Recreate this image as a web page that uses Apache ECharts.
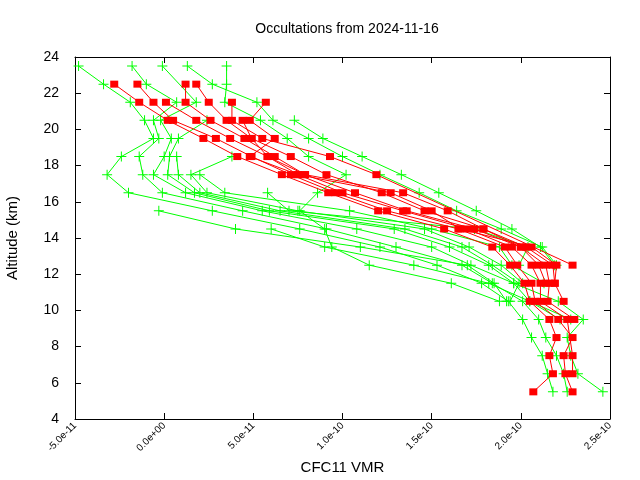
<!DOCTYPE html>
<html><head><meta charset="utf-8">
<script src="https://cdn.jsdelivr.net/npm/echarts@6/dist/echarts.min.js"></script>
<style>html,body{margin:0;padding:0;background:#fff}#c{width:640px;height:480px}</style>
</head><body><div id="c"></div>
<script>
// Altitude levels (km), top to bottom
const altitudes = [23.5,22.5,21.5,20.5,19.5,18.5,17.5,16.5,15.5,14.5,13.5,12.5,11.5,10.5,9.5,8.5,7.5,6.5,5.5];
// x tick labels
const xTicks = [-50,0,50,100,150,200,250]; // pptv (1e-12)

// Green profiles: CFC11 VMR in pptv at each altitude level (null = no data)
const green1 = [-48,-34,-19,-11,-6,-24,-32,-20,27,76,121,153,178,193,201,206,212,215,218];
const green2 = [-18,-10,7,-6,-3,-14,-12,-1,44,91,130,167,184,201,210,214,220,224,226];
const green3 = [-1,null,18,-2,4,0,-6,12,55,108,150,172,196,221,235,226,228,232,246];
const green4 = [null,null,null,24,8,3,2,17,59,129,160,182,196,205,228,null,null,null,null];
const green5 = [null,null,null,null,null,7,8,20,65,135,167,184,199,194,null,null,null,null,null];
const green6 = [null,null,null,null,null,38,15,24,75,146,171,189,201,null,null,null,null,null,null];
const green7 = [null,null,null,null,null,null,20,34,104,150,188,195,213,null,null,null,null,null,null];
const green8 = [null,null,null,null,null,null,null,58,70,174,204,199,null,null,null,null,null,null,null];
const green9 = [35,35,34,54,69,81,102,86,76,90,94,115,161,188,null,null,null,null,null];
const green10 = [13,27,52,61,81,100,121,143,164,189,212,220,null,null,null,null,null,null,null];
const green11 = [null,null,null,73,89,111,133,154,175,195,211,219,null,null,null,null,null,null,null];
const green12 = [null,null,null,null,null,null,null,null,-3,40,110,170,185,192,null,null,null,null,null];
const green13 = [null,null,null,null,null,null,null,null,null,60,90,140,182,205,222,null,null,null,null];

// Red profiles
const red1 = [null,-28,-14,2,22,41,66,92,120,157,184,194,202,205,216,220,216,218,207];
const red2 = [null,-15,-6,5,29,49,71,96,125,165,191,198,206,208,221,229,224,225,229];
const red3 = [null,null,1,18,37,58,75,100,134,170,195,206,211,211,226,null,229,229,null];
const red4 = [null,12,12,26,45,62,79,107,136,174,200,214,216,215,230,null,null,null,null];
const red5 = [null,18,25,35,49,71,91,122,146,179,203,218,219,224,null,null,null,null,null];
const red6 = [null,null,38,38,55,93,119,null,null,null,null,229,null,null,null,null,null,null,null];
const red7 = [null,null,57,48,62,48,75,127,150,166,206,220,219,null,null,null,null,null,null];
const red8 = [null,null,null,44,49,58,79,134,159,179,200,210,214,null,null,null,null,null,null];

const greens = [green1,green2,green3,green4,green5,green6,green7,green8,green9,green10,green11,green12,green13];
const reds = [red1,red2,red3,red4,red5,red6,red7,red8];

function toPairs(arr){
  const out=[];
  arr.forEach((v,i)=>{ if(v!==null) out.push([v, altitudes[i]]); });
  return out;
}
function fmt(v){
  if (v===0) return '0.0e+00';
  const x = v*1e-12;
  const e = Math.floor(Math.log10(Math.abs(x)) + 1e-9);
  const m = x/Math.pow(10,e);
  const es = (e<0?'-':'+') + String(Math.abs(e)).padStart(2,'0');
  return m.toFixed(1)+'e'+es;
}
const plus = 'path://M4.5,0 H5.5 V4.5 H10 V5.5 H5.5 V10 H4.5 V5.5 H0 V4.5 H4.5 Z';
const series = [];
greens.forEach(g=>series.push({type:'line',data:toPairs(g),xAxisIndex:0,yAxisIndex:0,
  symbol:plus,symbolSize:10,showAllSymbol:true,
  lineStyle:{color:'#00ff00',width:1},itemStyle:{color:'#00ff00',borderWidth:0},
  emphasis:{disabled:true},animation:false,z:2}));
reds.forEach(r=>series.push({type:'line',data:toPairs(r),xAxisIndex:0,yAxisIndex:0,
  symbol:'rect',symbolSize:[8,7],showAllSymbol:true,
  lineStyle:{color:'#ff0000',width:1},itemStyle:{color:'#ff0000',borderWidth:0},
  emphasis:{disabled:true},animation:false,z:3}));

const font = 'Liberation Sans, Arial, sans-serif';
const axLine = {show:true,onZero:false,lineStyle:{color:'#000',width:1}};
const chart = echarts.init(document.getElementById('c'),null,{renderer:'canvas'});
chart.setOption({
  animation:false,
  backgroundColor:'#fff',
  title:{text:'Occultations from 2024-11-16',left:342,top:17,textAlign:'center',
    textStyle:{fontFamily:font,fontSize:14,fontWeight:'normal',color:'#000'}},
  grid:{left:75,right:30,top:57,bottom:61,show:false,containLabel:false,outerBoundsMode:'none'},
  xAxis:[{type:'value',min:xTicks[0],max:xTicks[xTicks.length-1],interval:50,
    name:'CFC11 VMR',nameLocation:'middle',nameGap:40,
    nameTextStyle:{fontFamily:font,fontSize:15,color:'#000'},
    axisLine:axLine,axisTick:{inside:true,length:6,lineStyle:{color:'#000'}},
    axisLabel:{rotate:45,fontFamily:font,fontSize:10,color:'#000',margin:5,formatter:fmt,showMinLabel:true,showMaxLabel:true},
    splitLine:{show:false}},
   {type:'value',position:'top',min:xTicks[0],max:xTicks[xTicks.length-1],interval:50,
    axisLine:axLine,axisTick:{inside:true,length:6,lineStyle:{color:'#000'}},
    axisLabel:{show:false},splitLine:{show:false}}],
  yAxis:[{type:'value',min:4,max:24,interval:2,
    name:'Altitude (km)',nameLocation:'middle',nameGap:55,nameRotate:90,
    nameTextStyle:{fontFamily:font,fontSize:15,color:'#000'},
    axisLine:axLine,axisTick:{inside:true,length:6,lineStyle:{color:'#000'}},
    axisLabel:{fontFamily:font,fontSize:14,color:'#000',margin:16},
    splitLine:{show:false}},
   {type:'value',position:'right',min:4,max:24,interval:2,
    axisLine:axLine,axisTick:{inside:true,length:6,lineStyle:{color:'#000'}},
    axisLabel:{show:false},splitLine:{show:false}}],
  series:series
});
</script></body></html>
